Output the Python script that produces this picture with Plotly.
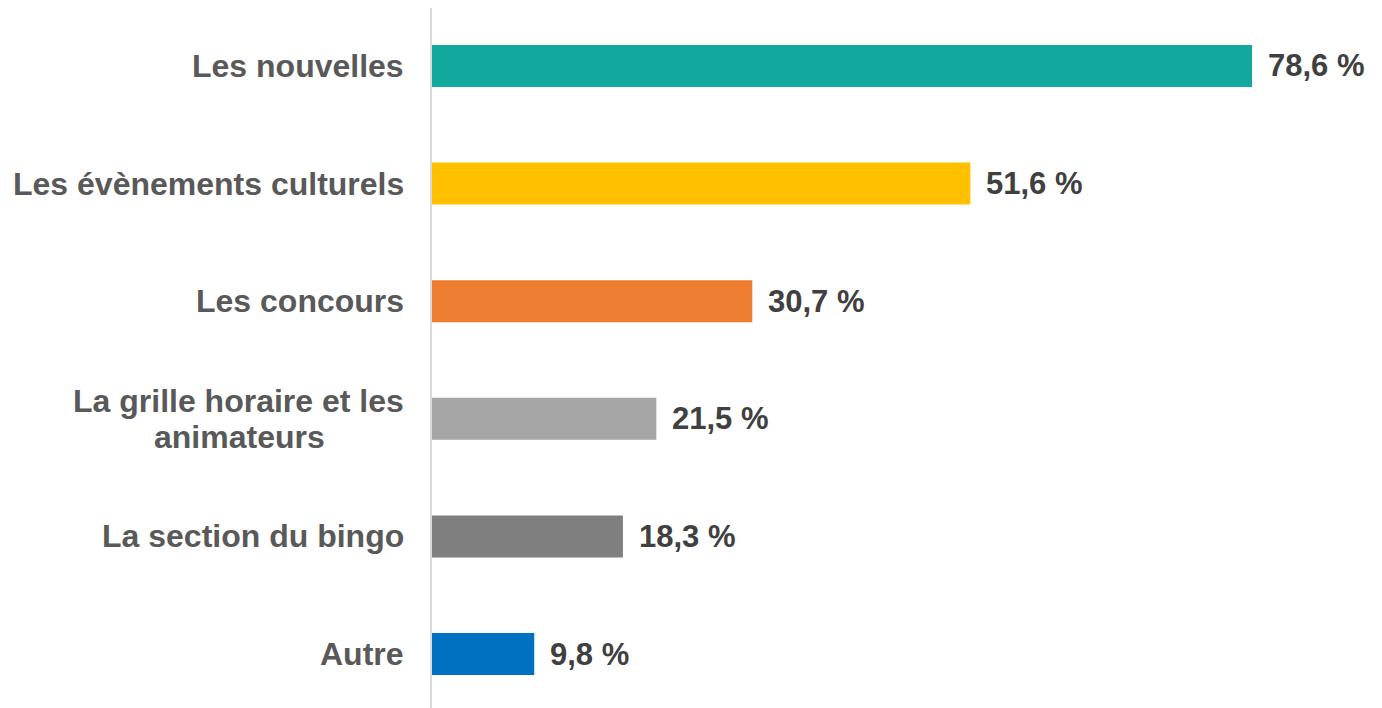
import plotly.graph_objects as go

categories = ["Les nouvelles", "Les évènements culturels", "Les concours",
              "La grille horaire et les<br>animateurs", "La section du bingo", "Autre"]
values = [78.6, 51.6, 30.7, 21.5, 18.3, 9.8]
value_labels = ["78,6 %", "51,6 %", "30,7 %", "21,5 %", "18,3 %", "9,8 %"]
colors = ["#13A89E", "#FFC000", "#ED7D31", "#A5A5A5", "#7F7F7F", "#0070C0"]

FONT = "Liberation Sans, Arial, sans-serif"
idx = list(range(len(categories)))

fig = go.Figure(go.Bar(
    x=values, y=idx, orientation="h",
    marker=dict(color=colors, line=dict(width=0)),
    width=0.357, hoverinfo="skip",
))

annotations = []
for i, (cat, v, lab) in enumerate(zip(categories, values, value_labels)):
    lines = cat.split("<br>")
    n = len(lines)
    line_gap = 36
    for k, line in enumerate(lines):
        yshift = ((n - 1) / 2 - k) * line_gap
        if k == 0 or n == 1:
            annotations.append(dict(
                x=0, y=i, xref="x", yref="y", text=line, showarrow=False,
                xanchor="right", yanchor="middle", xshift=-26, yshift=yshift,
                font=dict(family=FONT, size=32, color="#595959", weight="bold"),
            ))
        else:
            # continuation line centred under the first line
            annotations.append(dict(
                x=0, y=i, xref="x", yref="y", text=line, showarrow=False,
                xanchor="center", yanchor="middle", xshift=-193, yshift=yshift,
                font=dict(family=FONT, size=32, color="#595959", weight="bold"),
            ))
    annotations.append(dict(
        x=v, y=i, xref="x", yref="y", text=lab, showarrow=False,
        xanchor="left", yanchor="middle", xshift=14,
        font=dict(family=FONT, size=31, color="#404040", weight="bold"),
    ))

fig.update_layout(
    width=1382, height=708,
    margin=dict(l=424, r=19, t=0, b=8),
    paper_bgcolor="white", plot_bgcolor="white",
    showlegend=False,
    font=dict(family=FONT, weight="bold"),
    annotations=annotations,
    xaxis=dict(range=[0, 90], showgrid=False, zeroline=False,
               showticklabels=False, showline=False, ticks=""),
    yaxis=dict(range=[5.459, -0.493], showgrid=False, zeroline=False,
               showticklabels=False, ticks="", showline=True,
               linecolor="#D9D9D9", linewidth=2),
)

fig.write_html("out.html")
